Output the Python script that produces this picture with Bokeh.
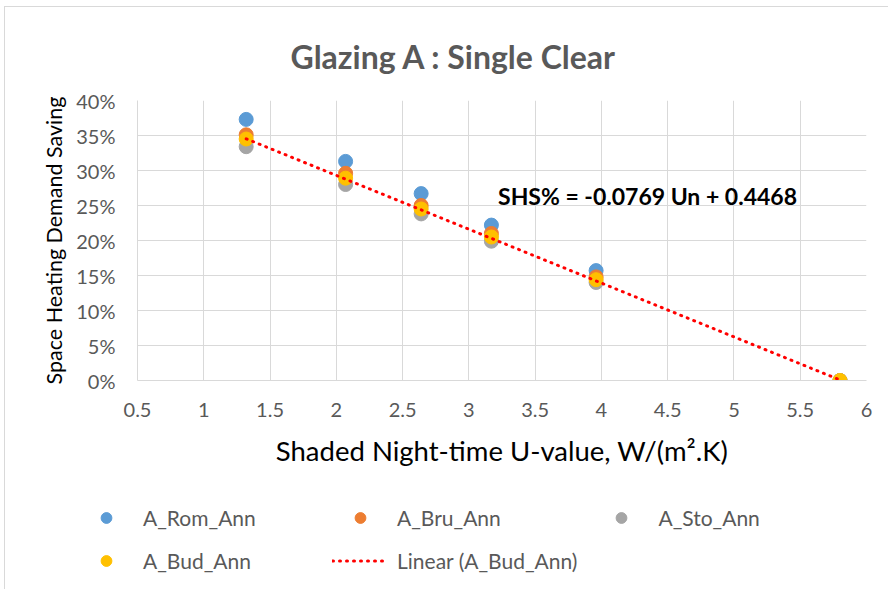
from bokeh.plotting import figure
from bokeh.layouts import column
from bokeh.models import (Legend, LegendItem, FixedTicker, NumeralTickFormatter,
                          Range1d, ColumnDataSource)
from bokeh.core.properties import value
from bokeh.embed import file_html
from bokeh.resources import INLINE

# ---- data ----
u_values = [1.32, 2.07, 2.64, 3.17, 3.96, 5.80]
a_rom = [0.373, 0.313, 0.267, 0.222, 0.157, 0.0]
a_bru = [0.351, 0.296, 0.250, 0.210, 0.148, 0.0]
a_sto = [0.334, 0.280, 0.238, 0.199, 0.140, 0.0]
a_bud = [0.345, 0.289, 0.245, 0.205, 0.144, 0.0]
series_names = ["A_Rom_Ann", "A_Bru_Ann", "A_Sto_Ann", "A_Bud_Ann"]
series_colors = ["#5B9BD5", "#ED7D31", "#A5A5A5", "#FFC000"]
trend_slope = -0.0769
trend_intercept = 0.4468
trend_label = "Linear (A_Bud_Ann)"
equation_text = "SHS% = -0.0769 Un + 0.4468"
equation_pos = (3.22, 0.264)
x_ticks = [0.5, 1, 1.5, 2, 2.5, 3, 3.5, 4, 4.5, 5, 5.5, 6]
y_ticks = [0, 0.05, 0.10, 0.15, 0.20, 0.25, 0.30, 0.35, 0.40]

FONT = "Lato"
GREY_TXT = "#595959"
GRID = "#D9D9D9"
TREND_COLOR = "#FF0000"

W = 883
p = figure(width=W, height=470, output_backend="svg", toolbar_location=None,
           x_range=Range1d(0.5, 6), y_range=Range1d(0, 0.4),
           min_border_left=132, min_border_right=22, min_border_top=93,
           min_border_bottom=97, title="Glazing A : Single Clear")
p.outline_line_color = None
p.background_fill_color = "white"
p.border_fill_color = "white"

p.title.text_font = FONT
p.title.text_font_size = "32px"
p.title.text_font_style = "bold"
p.title.text_color = GREY_TXT
p.title.align = "left"
p.title.offset = 153
p.title.standoff = 50

xax = p.below[0]
yax = p.left[0]
for ax in (xax, yax):
    ax.axis_line_color = GRID
    ax.major_tick_line_color = None
    ax.minor_tick_line_color = None
    ax.major_label_text_font = FONT
    ax.major_label_text_font_size = "20px"
    ax.major_label_text_color = GREY_TXT
    ax.axis_label_text_font = FONT
    ax.axis_label_text_font_style = "normal"
    ax.axis_label_text_color = "black"

xax.ticker = FixedTicker(ticks=x_ticks)
yax.ticker = FixedTicker(ticks=y_ticks)
yax.formatter = NumeralTickFormatter(format="0%")
xax.axis_label = "Shaded Night-time U-value, W/(m\u00b2.K)"
yax.axis_label = "Space Heating Demand Saving"
xax.axis_label_text_font_size = "27.5px"
yax.axis_label_text_font_size = "21.5px"
xax.major_label_standoff = 16
yax.major_label_standoff = 16
xax.axis_label_standoff = 14
yax.axis_label_standoff = 6

p.xgrid.ticker = FixedTicker(ticks=x_ticks)
p.ygrid.ticker = FixedTicker(ticks=y_ticks)
p.grid.grid_line_color = GRID
p.grid.grid_line_width = 1

sources = []
for vals, col in zip([a_rom, a_bru, a_sto, a_bud], series_colors):
    src = ColumnDataSource(dict(x=u_values, y=vals))
    sources.append(src)
    p.scatter("x", "y", source=src, size=14, fill_color=col, line_color=col)

tx = [min(u_values), max(u_values)]
ty = [trend_slope * v + trend_intercept for v in tx]
trend_src = ColumnDataSource(dict(x=tx, y=ty))
p.line("x", "y", source=trend_src, line_color=TREND_COLOR, line_width=3,
       line_dash="1 6", line_cap="round")

p.text(x=[equation_pos[0]], y=[equation_pos[1]], text=[equation_text],
       text_font=value(FONT), text_font_size="23px", text_font_style="bold",
       text_color="black", text_baseline="middle", text_align="left")

# ---- legend strip (second figure under the chart; its ranges keep the glyphs out of view) ----
LH = 112
lg = figure(width=W, height=LH, output_backend="svg", toolbar_location=None,
            x_range=Range1d(-3 * W, -2 * W), y_range=Range1d(-3 * LH, -2 * LH),
            x_axis_type=None, y_axis_type=None, min_border=0)
lg.outline_line_color = None
lg.grid.visible = False
lg.background_fill_color = "white"
lg.border_fill_color = "white"

for fig in (p, lg):
    try:
        fig.frame_align = False
    except AttributeError:
        pass

items = []
for n, col, src in zip(series_names, series_colors, sources):
    r = lg.scatter("x", "y", source=src, size=14, fill_color=col, line_color=col)
    items.append(LegendItem(label=n, renderers=[r]))
rl = lg.line("x", "y", source=trend_src, line_color=TREND_COLOR, line_width=3,
             line_dash="1 6", line_cap="round")
items.append(LegendItem(label=trend_label, renderers=[rl]))

legend = Legend(items=items, orientation="horizontal", ncols=3,
                location=(73, 15), padding=0, margin=0, spacing=16,
                glyph_width=56, glyph_height=27, label_standoff=9,
                label_width=173, label_height=27,
                label_text_font=FONT, label_text_font_size="21px",
                label_text_color=GREY_TXT, border_line_color=None,
                background_fill_alpha=0)
lg.add_layout(legend, "center")

layout = column(p, lg, spacing=0)
layout.styles = {"border-top": "1px solid #D9D9D9", "border-left": "1px solid #D9D9D9",
                 "margin-left": "4px", "margin-top": "6px"}

open("out.html", "w").write(file_html(layout, INLINE))
